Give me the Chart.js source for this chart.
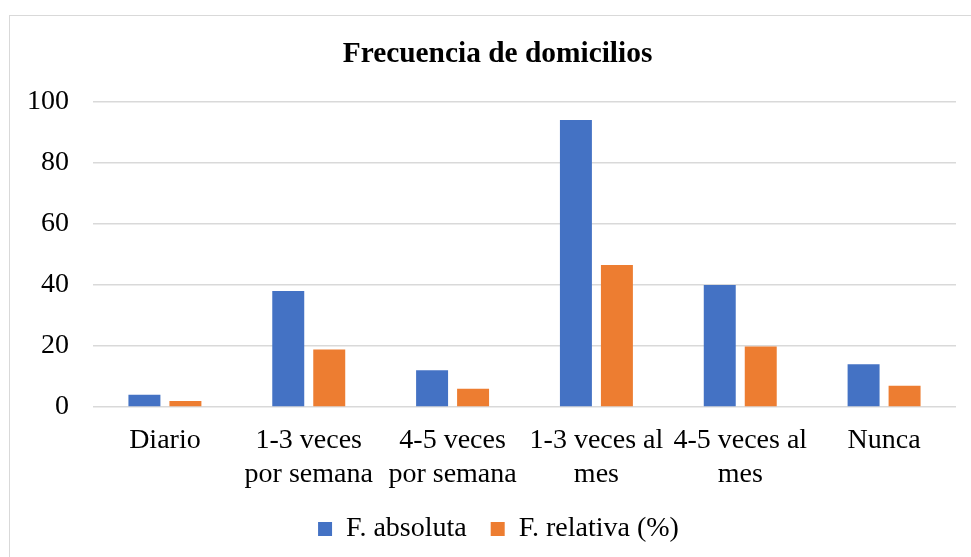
<!DOCTYPE html>
<html>
<head>
<meta charset="utf-8">
<script src="https://cdn.jsdelivr.net/npm/chart.js@4/dist/chart.umd.min.js"></script>
<style>
  html, body { margin: 0; padding: 0; background: #fff; }
  #wrap { position: relative; width: 971px; height: 557px; overflow: hidden; }
  #frame { position: absolute; left: 9px; top: 15px; width: 1000px; height: 600px; border: 1px solid #d9d9d9; box-sizing: border-box; }
  canvas { position: absolute; left: 0; top: 0; }
</style>
</head>
<body>
<div id="wrap">
  <div id="frame"></div>
  <canvas id="c" width="971" height="557"></canvas>
</div>
<script>
const categories = [
  ['Diario'],
  ['1-3 veces', 'por semana'],
  ['4-5 veces', 'por semana'],
  ['1-3 veces al', 'mes'],
  ['4-5 veces al', 'mes'],
  ['Nunca']
];
const absoluta = [4, 38, 12, 94, 40, 14];
const relativa = [1.98, 18.81, 5.94, 46.53, 19.80, 6.93];
const yTicks = [0, 20, 40, 60, 80, 100];
const seriesNames = ['F. absoluta', 'F. relativa (%)'];

const FONT = '"Liberation Serif", "Times New Roman", serif';

const shiftBlocks = {
  id: 'shiftBlocks',
  afterLayout(chart) {
    if (chart.legend) { chart.legend.left += 41; }
    if (chart.titleBlock) { chart.titleBlock.left += 39; }
  }
};

new Chart(document.getElementById('c'), {
  type: 'bar',
  data: {
    labels: categories,
    datasets: [
      { label: seriesNames[0], data: absoluta, backgroundColor: '#4472C4', borderWidth: 0 },
      { label: seriesNames[1], data: relativa, backgroundColor: '#ED7D31', borderWidth: 0 }
    ]
  },
  plugins: [shiftBlocks],
  options: {
    responsive: false,
    animation: false,
    devicePixelRatio: 1,
    layout: { padding: { left: 0, right: 15, top: 0, bottom: 4 } },
    datasets: { bar: { categoryPercentage: 0.57, barPercentage: 0.78 } },
    plugins: {
      title: {
        display: true,
        text: 'Frecuencia de domicilios',
        color: '#000',
        font: { family: FONT, size: 29.4, weight: 'bold', lineHeight: 1.2 },
        padding: { top: 37, bottom: 29.5 }
      },
      legend: {
        position: 'bottom',
        labels: {
          color: '#000',
          font: { family: FONT, size: 28 },
          boxWidth: 14,
          boxHeight: 14,
          padding: 24
        }
      },
      tooltip: { enabled: false }
    },
    scales: {
      x: {
        grid: { display: false, drawTicks: false },
        border: { display: false },
        ticks: {
          color: '#000',
          font: { family: FONT, size: 28, lineHeight: 1.2 },
          padding: 17,
          maxRotation: 0,
          autoSkip: false
        },
        afterFit: (s) => { s.height = 84; }
      },
      y: {
        min: 0,
        max: 100,
        afterBuildTicks: (s) => { s.ticks = yTicks.map(v => ({ value: v })); },
        grid: { color: '#d9d9d9', lineWidth: 1.5, drawTicks: false },
        border: { display: false },
        ticks: {
          color: '#000',
          font: { family: FONT, size: 28 },
          padding: 24
        },
        afterFit: (s) => { s.width = 93; }
      }
    }
  }
});
</script>
</body>
</html>
